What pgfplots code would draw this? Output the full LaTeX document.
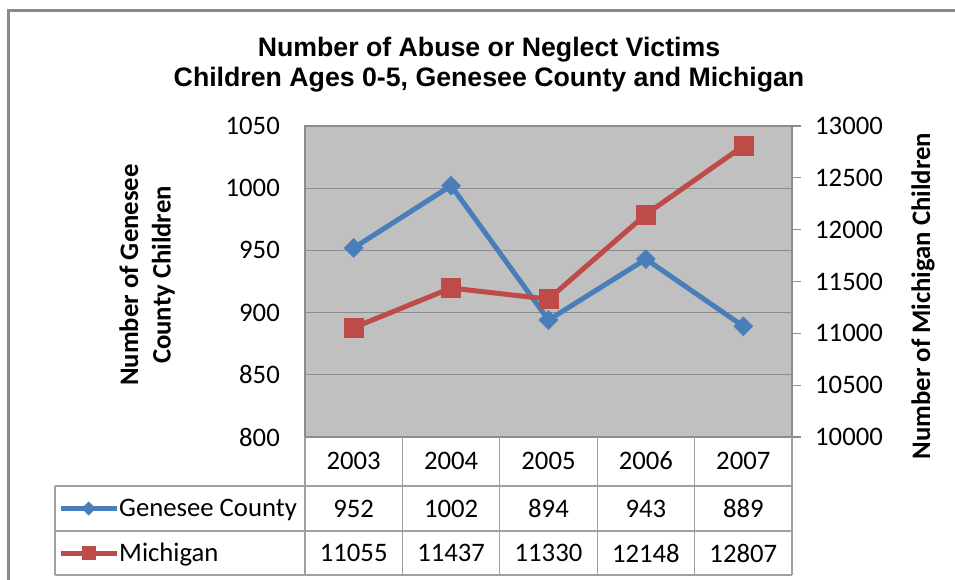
\documentclass[border=0pt]{standalone}
\usepackage{pgfplots}
\pgfplotsset{compat=1.18}
\usepackage{fontspec}
\setmainfont{Carlito}
\newfontfamily\arialfont{Liberation Sans}
\definecolor{gcblue}{HTML}{4A7EBB}
\definecolor{mired}{HTML}{BE4B48}
\definecolor{plotbg}{HTML}{C0C0C0}
\definecolor{gridc}{HTML}{8C8C8C}
\definecolor{tablec}{HTML}{A0A0A0}
\definecolor{framec}{HTML}{8A8A8A}
\newcommand\fs{\fontsize{26.7bp}{32.5bp}\selectfont}
\pgfplotsset{
  mylegimg/.style={legend image code/.code={\draw[mark repeat=2, mark phase=2, ##1, every mark/.append style={scale=0.7}] plot coordinates {(0bp,0bp) (28bp,0bp) (56bp,0bp)};}},
  common/.style={
    at={(0,0)}, anchor=north west, width=487bp, height=311bp, scale only axis,
    xmin=0.5, xmax=5.5,
    /pgf/number format/assume math mode=true,
    /pgf/number format/1000 sep={},
    scaled y ticks=false, clip=false, mylegimg,
  },
}
\begin{document}
\begin{tikzpicture}[x=1bp,y=1bp]
\begin{axis}[common,
  ymin=800, ymax=1050,
  ytick={800,850,...,1050},
  xtick={1,2,3,4,5}, xticklabels={2003,2004,2005,2006,2007},
  major tick length=0pt,
  axis background/.style={fill=plotbg},
  ymajorgrids, grid style={gridc, line width=1.2bp},
  axis line style={-, gridc, line width=1.2bp},
  every tick label/.append style={font=\fs, inner sep=0pt},
  yticklabel style={anchor=east, xshift=-25bp},
  xticklabel style={anchor=center, yshift=-24bp},
  legend style={at={(-0.5072,-0.2299)}, anchor=west, draw=none, fill=none, inner sep=0pt, font=\fs, column sep=0bp, nodes={inner sep=0pt}},
]
\addplot[gcblue, line width=5bp, mark=square*, mark size=6.7bp, mark options={rotate=45, solid, fill=gcblue, line width=0.5bp}] coordinates {(1,952) (2,1002) (3,894) (4,943) (5,889)};
\addlegendentry{Genesee County}
\coordinate (O) at (rel axis cs:0,0);
\end{axis}

\begin{axis}[common,
  ymin=10000, ymax=13000,
  axis y line*=right, axis x line=none,
  ytick={10000,10500,...,13000},
  yticklabel pos=right,
  tick align=outside, major tick length=9bp,
  tick style={gridc, line width=1.2bp},
  axis line style={-, gridc, line width=1.2bp},
  yticklabel style={font=\fs, anchor=west, inner sep=0pt, xshift=14bp},
  legend style={at={(-0.5072,-0.373)}, anchor=west, draw=none, fill=none, inner sep=0pt, font=\fs, column sep=0bp, nodes={inner sep=0pt}},
]
\addplot[mired, line width=5bp, mark=square*, mark size=9.5bp, mark options={solid, fill=mired, line width=0.5bp}] coordinates {(1,11055) (2,11437) (3,11330) (4,12148) (5,12807)};
\addlegendentry{Michigan}
\end{axis}

\pgfresetboundingbox
\begin{scope}[shift={(O)}, shift={(-305,-143)}]
\useasboundingbox (0,0) rectangle (955,580);
% frame
\draw[framec, line width=3bp] (9,-10) -- (9,569) -- (970,569);
% title
\node[font=\arialfont\bfseries\fs, anchor=base] at (489,523) {Number of Abuse or Neglect Victims};
\node[font=\arialfont\bfseries\fs, anchor=base] at (489,493) {Children Ages 0-5, Genesee County and Michigan};
% axis titles
\node[font=\bfseries\fs, rotate=90, align=center] at (147,305) {Number of Genesee\\County Children};
\node[font=\bfseries\fs, rotate=90] at (923,284) {Number of Michigan Children};
% data table grid
\begin{scope}[tablec, line width=1.3bp]
\foreach \x in {305,402.4,499.8,597.2,694.6,792} \draw (\x,143) -- (\x,5);
\draw (55,94) -- (792,94);
\draw (55,49) -- (792,49);
\draw (55,5) -- (792,5);
\draw (55,94) -- (55,5);
\end{scope}
% table values
\begin{scope}[every node/.style={font=\fs, inner sep=0pt}]
\node at (353.7,71.5) {952};
\node at (451.1,71.5) {1002};
\node at (548.5,71.5) {894};
\node at (645.9,71.5) {943};
\node at (743.3,71.5) {889};
\node at (353.7,27) {11055};
\node at (451.1,27) {11437};
\node at (548.5,27) {11330};
\node at (645.9,27) {12148};
\node at (743.3,27) {12807};
\end{scope}
\end{scope}
\end{tikzpicture}
\end{document}
